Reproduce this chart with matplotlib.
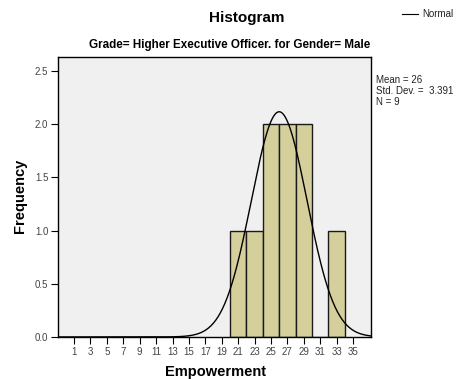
import matplotlib
matplotlib.use("Agg")
import matplotlib.pyplot as plt
import numpy as np

plt.rcParams['font.family'] = ['Liberation Sans', 'DejaVu Sans']

# histogram counts per 2-unit bin
bin_edges = [20, 22, 24, 26, 28, 30, 32, 34]
counts = [1, 1, 2, 2, 2, 0, 1]
mean = 26
std = 3.391
n = 9
xticks = list(range(1, 36, 2))
yticks = [0.0, 0.5, 1.0, 1.5, 2.0, 2.5]

fig = plt.figure(figsize=(4.57, 3.79), dpi=100)
ax = fig.add_axes([0.127, 0.111, 0.685, 0.739])
ax.set_facecolor('#f0f0f0')

lefts = bin_edges[:-1]
widths = np.diff(bin_edges)
ax.bar(lefts, counts, width=widths, align='edge', color='#d4cf9b',
       edgecolor='#1a1a1a', linewidth=1.0, zorder=2)

# normal curve scaled to the histogram
xs = np.linspace(-1, 37.2, 400)
bw = widths[0]
ys = n * bw / (std * np.sqrt(2 * np.pi)) * np.exp(-0.5 * ((xs - mean) / std) ** 2)
ax.plot(xs, ys, color='black', linewidth=1.0, zorder=3)

ax.set_xlim(-0.95, 37.2)
ax.set_ylim(0, 2.634)
ax.set_xticks(xticks)
ax.set_yticks(yticks)
ax.set_yticklabels([f"{v:.1f}" for v in yticks])
ax.tick_params(axis='both', direction='out', length=5, width=0.8,
               labelsize=7, labelcolor='#444444', pad=2)
for s in ax.spines.values():
    s.set_linewidth(1.0)
    s.set_color('black')

fig.text(215 / 457, 1 - 372 / 379, 'Empowerment', ha='center', va='center',
         fontsize=10.5, fontweight='bold')
fig.text(20 / 457, 1 - 196 / 379, 'Frequency', ha='center', va='center',
         rotation=90, fontsize=10.5, fontweight='bold')

fig.text(0.54, 0.952, 'Histogram', ha='center', va='center',
         fontsize=11, fontweight='bold')
fig.text(230 / 457, 0.882, 'Grade= Higher Executive Officer. for Gender= Male',
         ha='center', va='center', fontsize=8.4, fontweight='bold')

# legend entry top right
fig.add_artist(plt.Line2D([402 / 457, 418 / 457], [1 - 14 / 379, 1 - 14 / 379],
                          color='black', linewidth=0.8))
fig.text(422 / 457, 1 - 14 / 379, 'Normal', ha='left', va='center', fontsize=7,
         color='#222222')

stats = f"Mean = {mean}\nStd. Dev. =  {std}\nN = {n}"
fig.text(376 / 457, 1 - 75 / 379, stats, ha='left', va='top', fontsize=7,
         linespacing=1.15, color='#222222')

fig.savefig('out.png', dpi=100)
